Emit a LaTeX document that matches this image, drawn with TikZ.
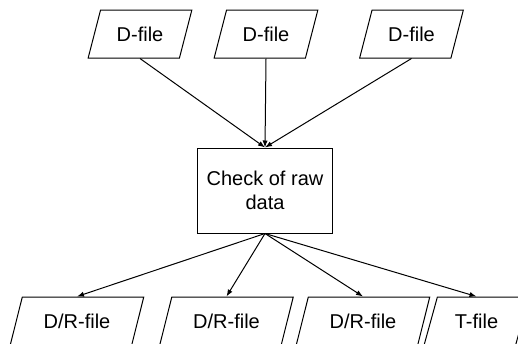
\documentclass[tikz,border=0pt]{standalone}
\usepackage{fontspec}
\setmainfont{Liberation Sans}
\usetikzlibrary{shapes.geometric,arrows.meta}
\tikzset{
  datafile/.style={draw,shape=trapezium,trapezium left angle=63.43,trapezium right angle=116.57,
    trapezium stretches=true,minimum height=24pt,minimum width=52pt,inner sep=0pt},
  widefile/.style={datafile,minimum width=67pt},
  checkbox/.style={draw,rectangle,minimum width=67.5pt,minimum height=42.5pt,align=center,inner sep=0pt},
  flow/.style={-{Latex[length=3.5pt,width=2.6pt]}},
}
\begin{document}
\begin{tikzpicture}[x=0.5pt,y=-0.5pt,font=\fontsize{10}{12}\selectfont,line width=0.5pt]
	\useasboundingbox (0,0) rectangle (518,343);
	\clip (0,0) rectangle (518,343);
	% input files
	\node[datafile] (din1) at (140,34) {D-file};
	\node[datafile] (din2) at (266,34) {D-file};
	\node[datafile] (din3) at (411.5,34) {D-file};
	% check
	\node[checkbox] (check) at (265,190.5) {Check of raw\\data};
	% output files
	\node[widefile] (dr1) at (77,321) {D/R-file};
	\node[widefile] (dr2) at (226.5,321) {D/R-file};
	\node[widefile] (dr3) at (363,321) {D/R-file};
	\node[datafile,minimum width=52.5pt] (tf) at (476.5,321) {T-file};
	% connectors
	\foreach \n in {din1,din2,din3}
		\draw[flow] (\n.center |- \n.south) -- (check.north);
	\foreach \n in {dr1,dr2,dr3,tf}
		\draw[flow] (check.south) -- (\n.center |- \n.north);
\end{tikzpicture}
\end{document}
